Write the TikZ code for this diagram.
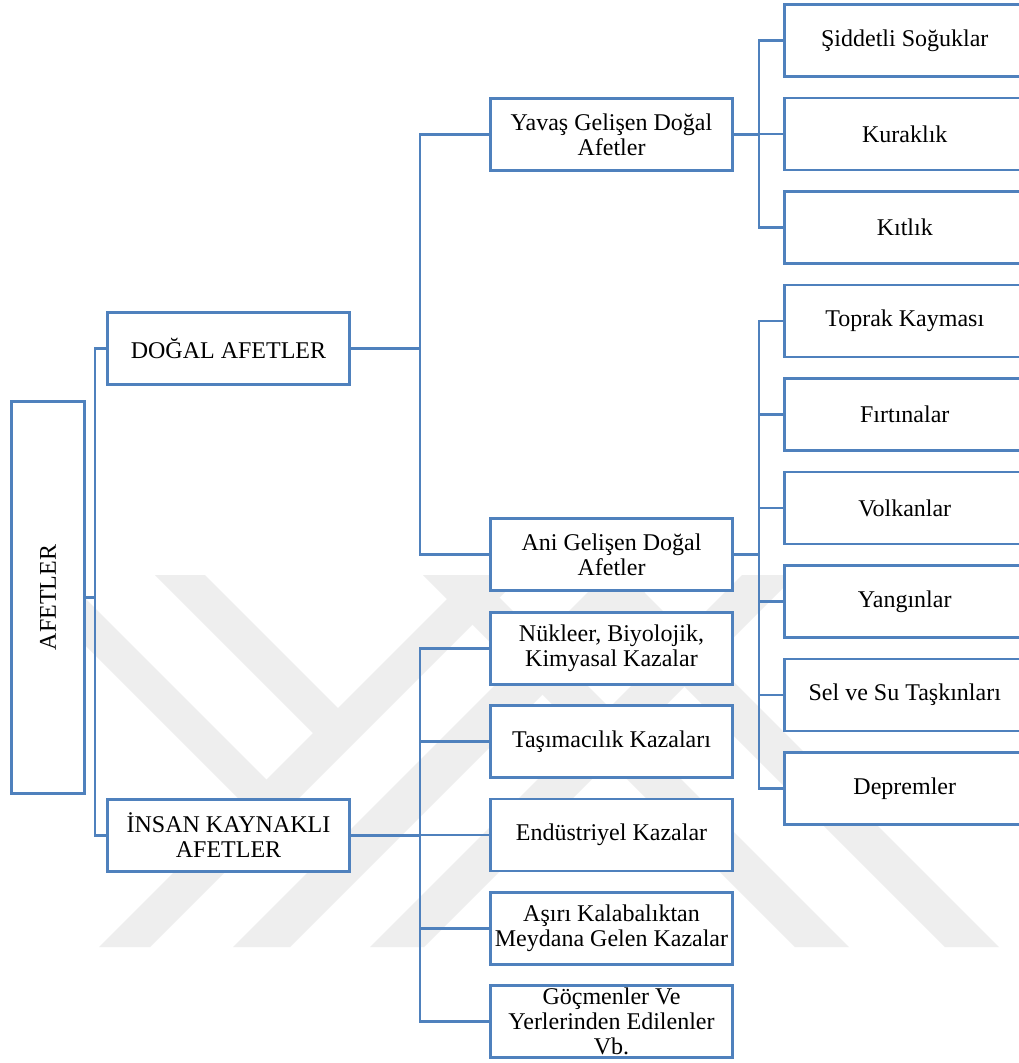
\documentclass[tikz,border=0pt]{standalone}
\usepackage{fontspec}
\setmainfont{Liberation Serif}
\definecolor{lineblue}{RGB}{79,129,189}
\definecolor{wmgray}{RGB}{238,238,238}
\begin{document}
\begin{tikzpicture}[x=1pt,y=-1pt,
  box/.style={draw=lineblue, line width=2.9pt, fill=white, inner sep=0pt, align=center,
    font=\fontsize{24}{25}\selectfont, minimum width=242pt, minimum height=72pt},
  rbox/.style={box, minimum width=240.5pt},
  conn/.style={draw=lineblue, line width=2.9pt},
  wm/.style={fill=wmgray, draw=none}]
\useasboundingbox (0,0) rectangle (1019,1063);
\fill[white] (0,0) rectangle (1019,1063);
% watermark
\fill[wm] (99,947) -- (150,947) -- (522,575) -- (471,575) -- cycle;
\fill[wm] (155,575) -- (205,575) -- (345,715) -- (320,740) -- cycle;
\fill[wm] (233,947) -- (290,947) -- (662,575) -- (605,575) -- cycle;
\fill[wm] (15,575) -- (62,575) -- (348,861) -- (325,885) -- cycle;
\fill[wm] (370,947) -- (424,947) -- (796,575) -- (742,575) -- cycle;
\fill[wm] (423,575) -- (477,575) -- (849,947) -- (795,947) -- cycle;
\fill[wm] (573,575) -- (627,575) -- (999,947) -- (945,947) -- cycle;
% junction columns
\coordinate (b1) at (95,0);
\coordinate (b2) at (420,0);
\coordinate (b3) at (759,0);
% level 0
\node[box, minimum width=73pt, minimum height=392pt] (afet) at (48,597.5) {};
\node[rotate=90, inner sep=0pt, font=\fontsize{24}{25}\selectfont] (afettxt) at (afet.center) {AFETLER};
% level 1
\node[box] (dogal) at (228.5,348.5) {DOĞAL AFETLER};
\node[box] (insan) at (228.5,835.5) {İNSAN KAYNAKLI\\AFETLER};
% level 2
\node[box] (yavas) at (611.5,134.5) {Yavaş Gelişen Doğal\\Afetler};
\node[box] (ani) at (611.5,554.5) {Ani Gelişen Doğal\\Afetler};
\node[box] (nukleer) at (611.5,648.5) {Nükleer, Biyolojik,\\Kimyasal Kazalar};
\node[box] (tasima) at (611.5,741.75) {Taşımacılık Kazaları};
\node[box] (endus) at (611.5,835) {Endüstriyel Kazalar};
\node[box] (asiri) at (611.5,928.25) {Aşırı Kalabalıktan\\Meydana Gelen Kazalar};
\node[box] (gocmen) at (611.5,1021.5) {Göçmenler Ve\\Yerlerinden Edilenler\\Vb.};
% level 3
\node[rbox] (siddet) at (904.75,40.5) {Şiddetli Soğuklar};
\node[rbox] (kurak) at (904.75,134) {Kuraklık};
\node[rbox] (kitlik) at (904.75,227.5) {Kıtlık};
\node[rbox] (toprak) at (904.75,321) {Toprak Kayması};
\node[rbox] (firtina) at (904.75,414.5) {Fırtınalar};
\node[rbox] (volkan) at (904.75,508) {Volkanlar};
\node[rbox] (yangin) at (904.75,601.5) {Yangınlar};
\node[rbox] (sel) at (904.75,695) {Sel ve Su Taşkınları};
\node[rbox] (deprem) at (904.75,788.5) {Depremler};
% connectors
\draw[conn] (afet.east) -- (afet.east -| b1);
\draw[conn] (dogal.west) -| (b1 |- insan.west) -- (insan.west);
\draw[conn] (dogal.east) -- (dogal.east -| b2);
\draw[conn] (yavas.west) -| (b2 |- ani.west) -- (ani.west);
\draw[conn] (insan.east) -- (insan.east -| b2);
\draw[conn] (nukleer.west) -| (b2 |- gocmen.west) -- (gocmen.west);
\draw[conn] (tasima.west) -- (tasima.west -| b2);
\draw[conn] (endus.west) -- (endus.west -| b2);
\draw[conn] (asiri.west) -- (asiri.west -| b2);
\draw[conn] (yavas.east) -- (yavas.east -| b3);
\draw[conn] (siddet.west) -| (b3 |- kitlik.west) -- (kitlik.west);
\draw[conn] (kurak.west) -- (kurak.west -| b3);
\draw[conn] (ani.east) -- (ani.east -| b3);
\draw[conn] (toprak.west) -| (b3 |- deprem.west) -- (deprem.west);
\draw[conn] (firtina.west) -- (firtina.west -| b3);
\draw[conn] (volkan.west) -- (volkan.west -| b3);
\draw[conn] (yangin.west) -- (yangin.west -| b3);
\draw[conn] (sel.west) -- (sel.west -| b3);
\end{tikzpicture}
\end{document}
